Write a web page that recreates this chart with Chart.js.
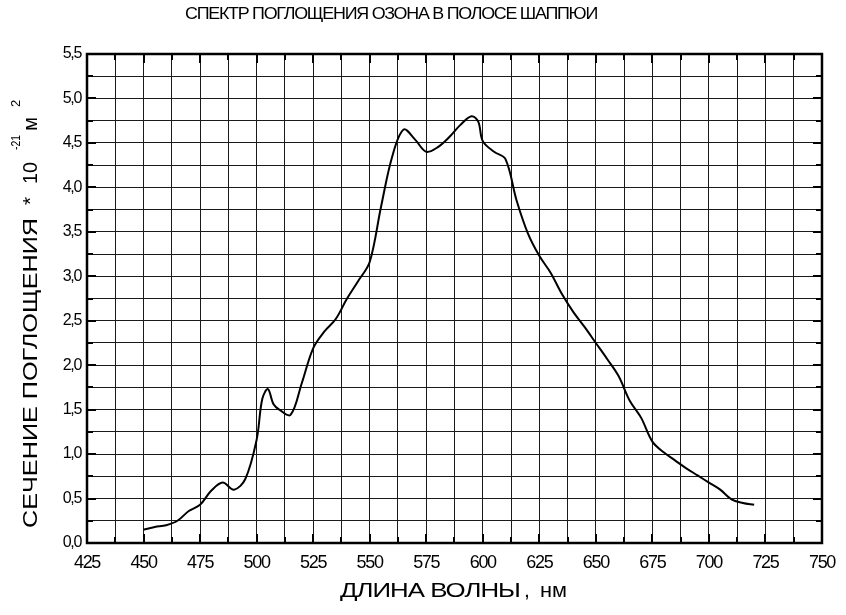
<!DOCTYPE html>
<html>
<head>
<meta charset="utf-8">
<script src="https://cdn.jsdelivr.net/npm/chart.js@4/dist/chart.umd.min.js"></script>
<style>
  html, body { margin: 0; padding: 0; background: #fff; }
  #wrap { width: 846px; height: 615px; }
</style>
</head>
<body>
<div id="wrap"><canvas id="c" width="846" height="615"></canvas></div>
<script>
// wavelength, nm
var wavelengths = [450, 455, 460, 465, 470, 475, 480, 485, 490, 495, 500, 502.5, 505, 507.5, 510, 515,
    520, 525, 530, 535, 540, 545, 550, 555, 560, 565, 570, 575, 580, 585, 590, 595, 598,
    600, 605, 610, 615, 620, 625, 630, 635, 640, 645, 650, 655, 660, 665, 670, 675, 680,
    685, 690, 695, 700, 705, 710, 715, 720];
// cross-section * 10^-21 m^2
var crossSection = [0.15, 0.18, 0.20, 0.25, 0.36, 0.43, 0.59, 0.68, 0.60, 0.72, 1.16, 1.62, 1.73, 1.56, 1.50, 1.44,
    1.80, 2.19, 2.38, 2.52, 2.75, 2.95, 3.16, 3.78, 4.35, 4.65, 4.54, 4.40, 4.45, 4.56, 4.70, 4.80, 4.74,
    4.52, 4.40, 4.32, 3.85, 3.48, 3.23, 3.04, 2.80, 2.60, 2.43, 2.25, 2.07, 1.88, 1.60, 1.41, 1.14, 1.02,
    0.93, 0.84, 0.76, 0.68, 0.60, 0.49, 0.45, 0.43];

var titleText = 'СПЕКТР ПОГЛОЩЕНИЯ ОЗОНА В ПОЛОСЕ ШАППЮИ';
var xTitle = 'ДЛИНА ВОЛНЫ';
var xUnit = 'нм';
var yTitle = 'СЕЧЕНИЕ ПОГЛОЩЕНИЯ';
var sans = "'Liberation Sans', Arial, sans-serif";

var points = wavelengths.map(function(w, i) { return { x: w, y: crossSection[i] }; });

// draw text scaled horizontally so that it spans the given width
function stretchText(ctx, text, x, y, width, spacing) {
    ctx.save();
    ctx.letterSpacing = (spacing || 0) + 'px';
    var w = ctx.measureText(text).width;
    ctx.translate(x, y);
    ctx.scale(width / w, 1);
    ctx.textAlign = 'left';
    ctx.fillText(text, 0, 0);
    ctx.restore();
}

var frame = {
    id: 'frame',
    beforeDraw: function(chart) {
        // condensed look for the tick labels
        chart.ctx.letterSpacing = '-1.3px';
    },
    afterDraw: function(chart) {
        var ctx = chart.ctx, a = chart.chartArea;
        var xs = chart.scales.x, ys = chart.scales.y;
        ctx.save();
        ctx.letterSpacing = '0px';
        ctx.strokeStyle = '#000';
        // inward tick marks on all four sides
        ctx.lineWidth = 2;
        ctx.beginPath();
        for (var v = 425; v <= 750; v += 12.5) {
            var px = Math.round(xs.getPixelForValue(v));
            var len = (v % 25 === 0) ? 9 : 6;
            ctx.moveTo(px, a.bottom); ctx.lineTo(px, a.bottom - len);
            ctx.moveTo(px, a.top); ctx.lineTo(px, a.top + len);
        }
        for (var k = 0; k <= 22; k++) {
            var py = Math.round(ys.getPixelForValue(k * 0.25));
            var l2 = (k % 2 === 0) ? 9 : 6;
            ctx.moveTo(a.left, py); ctx.lineTo(a.left + l2, py);
            ctx.moveTo(a.right, py); ctx.lineTo(a.right - l2, py);
        }
        ctx.stroke();
        ctx.lineWidth = 2.5;
        ctx.strokeRect(a.left, a.top, a.right - a.left, a.bottom - a.top);

        ctx.fillStyle = '#000';
        ctx.textBaseline = 'alphabetic';

        // title: tall, tightly set letters
        ctx.font = '17px ' + sans;
        stretchText(ctx, titleText, 185, 19, 412, -1.2);

        // x axis title
        ctx.font = '21px ' + sans;
        stretchText(ctx, xTitle, 340, 597, 180, -0.8);
        ctx.fillText(',', 524, 597);
        stretchText(ctx, xUnit, 540, 597, 27, 0);

        // y axis title with superscripts (rotated)
        ctx.translate(37, 0);
        ctx.rotate(-Math.PI / 2);
        ctx.font = '21px ' + sans;
        stretchText(ctx, yTitle, -528, 0, 310, 0);
        ctx.textAlign = 'center';
        ctx.fillText('*', -201, 0);
        stretchText(ctx, '10', -184, 0, 22, 0);
        stretchText(ctx, 'м', -131, 0, 14, 0);
        ctx.font = '13px ' + sans;
        stretchText(ctx, '-21', -150, -17, 15, 0);
        ctx.textAlign = 'left';
        ctx.fillText('2', -107, -17);
        ctx.restore();
    }
};

new Chart(document.getElementById('c').getContext('2d'), {
    type: 'line',
    data: {
        datasets: [{
            data: points,
            borderColor: '#000',
            borderWidth: 2,
            pointRadius: 0,
            tension: 0.35,
            fill: false
        }]
    },
    options: {
        responsive: false,
        animation: false,
        events: [],
        layout: { padding: { left: 0, right: 24, top: 54, bottom: 0 } },
        plugins: { legend: { display: false }, tooltip: { enabled: false }, title: { display: false } },
        scales: {
            x: {
                type: 'linear',
                min: 425, max: 750,
                afterFit: function(s) { s.height = 72; },
                afterBuildTicks: function(s) {
                    var t = [];
                    for (var v = 425; v <= 750; v += 12.5) t.push({ value: v });
                    s.ticks = t;
                },
                grid: { color: '#1a1a1a', lineWidth: 1, drawTicks: false },
                border: { display: false },
                ticks: {
                    padding: 9,
                    color: '#000',
                    maxRotation: 0,
                    autoSkip: false,
                    font: { family: sans, size: 18 },
                    callback: function(v) { return v % 25 === 0 ? String(v) : ''; }
                }
            },
            y: {
                min: 0, max: 5.5,
                afterFit: function(s) { s.width = 87; },
                afterBuildTicks: function(s) {
                    var t = [];
                    for (var k = 0; k <= 22; k++) t.push({ value: k * 0.25 });
                    s.ticks = t;
                },
                grid: { color: '#1a1a1a', lineWidth: 1, drawTicks: false },
                border: { display: false },
                ticks: {
                    padding: 6,
                    color: '#000',
                    autoSkip: false,
                    font: { family: sans, size: 16 },
                    callback: function(v) {
                        var k = Math.round(v * 4);
                        return k % 2 === 0 ? v.toFixed(1).replace('.', ',') : '';
                    }
                }
            }
        }
    },
    plugins: [frame]
});
</script>
</body>
</html>
